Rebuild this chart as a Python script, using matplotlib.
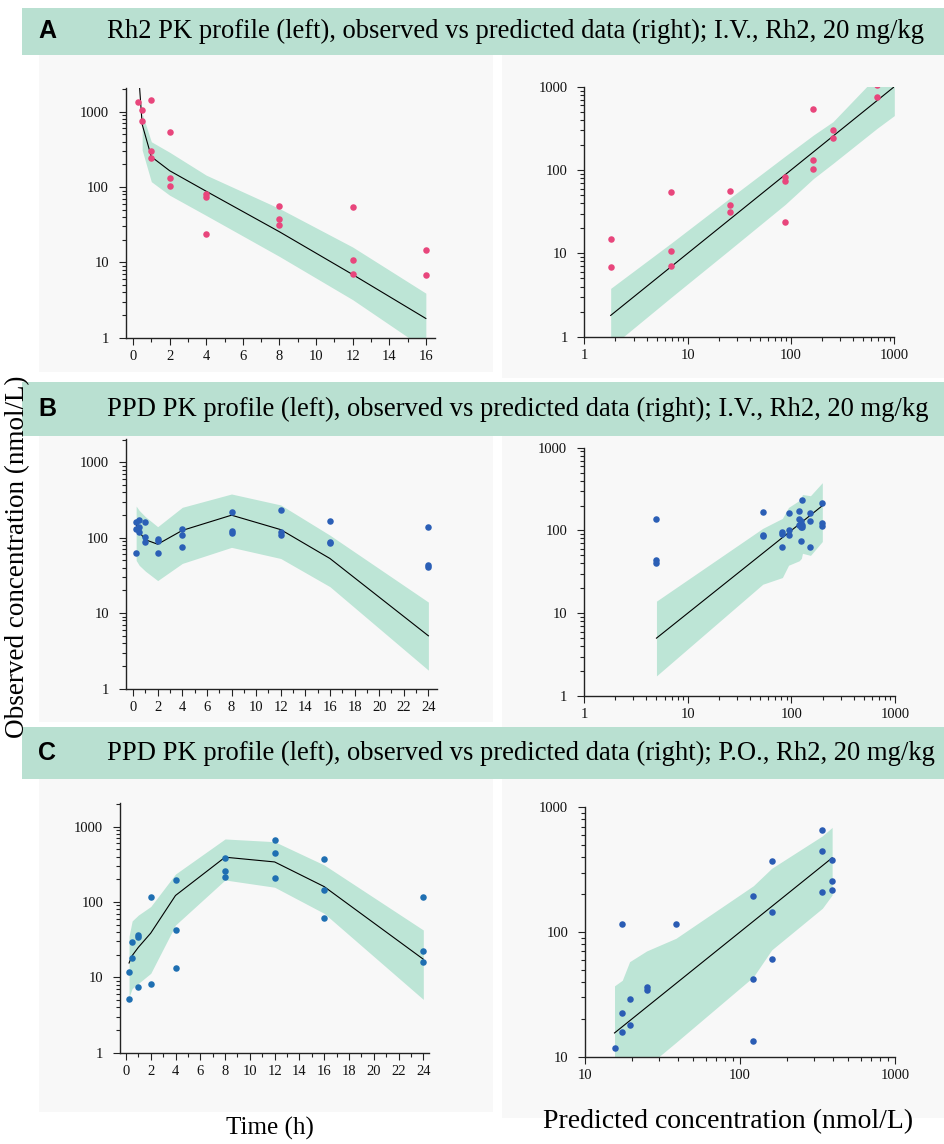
import numpy as np
import matplotlib.pyplot as plt
from matplotlib.patches import Rectangle
from matplotlib.ticker import LogLocator, MultipleLocator, FuncFormatter, NullFormatter

plt.rcParams['font.family'] = ['Liberation Serif', 'DejaVu Serif']

W, H = 945, 1144

# ---------------- A: Rh2, I.V. ----------------
a_t = [0.25, 0.5, 0.5, 1, 1, 1, 2, 2, 2, 4, 4, 4, 8, 8, 8, 12, 12, 12, 16, 16]
a_obs = [1358, 1042, 752, 1428, 303, 245, 543, 133, 103, 82, 74.5, 24,
         56.5, 38, 31.6, 54.3, 10.6, 7.1, 14.7, 6.8]
a_tp = [0.25, 0.5, 1, 2, 4, 8, 12, 16]
a_pred = [5000, 680, 253, 165, 88, 25.5, 6.9, 1.8]
a_band_t = [0.5, 1, 2, 4, 8, 12, 16]
a_band_lo = [310, 118, 78, 42, 12, 3.2, 0.7]
a_band_hi = [950, 400, 290, 144, 52, 16, 3.9]
a_rband_x = [1.8, 7, 25, 88, 165, 255, 680, 1000]
a_rband_lo = [0.75, 3, 10.8, 38.7, 79, 120, 316, 450]
a_rband_hi = [3.8, 13.4, 45, 147, 263, 380, 1350, 2200]

# ---------------- B: PPD, I.V. ----------------
b_t = [0.25] * 3 + [0.5] * 3 + [1] * 3 + [2] * 3 + [4] * 3 + [8] * 3 + [12] * 3 + [16] * 3 + [24] * 3
b_obs = [163, 131, 63, 172, 137, 118, 161, 101, 88, 95, 90, 63, 131, 110, 74.5,
         217, 122, 114, 231, 118, 109, 169, 88, 86, 137, 44, 41]
b_tp = [0.25, 0.5, 1, 2, 4, 8, 12, 16, 24]
b_pred = [150, 119, 94, 82, 125, 199, 128, 53, 5]
b_band_t = b_tp
b_band_lo = [50, 43, 36, 27, 45.6, 74.5, 53, 22.4, 1.75]
b_band_hi = [263, 230, 190, 140, 253, 380, 272, 108, 14]
b_rband_x = [5, 53, 82, 94, 119, 125, 128, 153, 199]
b_rband_lo = [1.75, 22.4, 27, 38, 43, 46, 53, 50, 73.5]
b_rband_hi = [14, 106, 140, 190, 230, 253, 272, 263, 378]

# ---------------- C: PPD, P.O. ----------------
c_t = [0.25, 0.25, 0.5, 0.5, 1, 1, 1, 2, 2, 4, 4, 4, 8, 8, 8, 12, 12, 12, 16, 16, 16, 24, 24, 24]
c_obs = [11.8, 5.1, 29.2, 17.9, 36.1, 34, 7.4, 115, 8.2, 194, 42, 13.4, 380, 258, 217,
         658, 448, 210, 368, 146, 60.7, 116, 22.4, 15.8]
c_tp = [0.25, 0.5, 1, 2, 4, 8, 12, 16, 24]
c_pred = [15.5, 19.4, 25, 38.6, 122, 393, 340, 160, 17.4]
c_band_t = c_tp
c_band_lo = [5.5, 7.1, 8.3, 11.3, 49.5, 196, 157, 70.6, 5.1]
c_band_hi = [35, 56, 67, 87, 235, 686, 631, 310, 42.5]
c_rband_x = [15.5, 17.4, 19.4, 25, 38.6, 122, 160, 340, 393]
c_rband_lo = [5.5, 5.1, 7.1, 8.3, 13, 43.7, 71.8, 155, 198]
c_rband_hi = [37, 41, 57.8, 70.5, 89, 235, 324, 590, 690]

titles = ['Rh2 PK profile (left), observed vs predicted data (right); I.V., Rh2, 20 mg/kg',
          'PPD PK profile (left), observed vs predicted data (right); I.V., Rh2, 20 mg/kg',
          'PPD PK profile (left), observed vs predicted data (right); P.O., Rh2, 20 mg/kg']
letters = ['A', 'B', 'C']

BAND = '#bde5d6'
HEAD = '#b9e0d1'
PANEL = '#f8f8f8'


def px_axes(fig, l, t, r, b):
    return fig.add_axes([l / W, 1 - b / H, (r - l) / W, (b - t) / H])


def fig_rect(fig, l, t, r, b, color):
    fig.patches.append(Rectangle((l / W, 1 - b / H), (r - l) / W, (b - t) / H,
                                 transform=fig.transFigure, color=color, lw=0, zorder=-5))


def style(ax):
    ax.set_facecolor('none')
    for s in ['top', 'right']:
        ax.spines[s].set_visible(False)
    for s in ['left', 'bottom']:
        ax.spines[s].set_linewidth(1.0)
        ax.spines[s].set_color('#222222')
    ax.tick_params(which='both', direction='out', color='#222222', width=0.8,
                   labelsize=10.5, labelcolor='#111111')
    ax.tick_params(axis='y', which='both', pad=7)
    ax.tick_params(axis='x', which='both', pad=4)
    ax.tick_params(which='major', length=5)
    ax.tick_params(which='minor', length=3)
    fmt = FuncFormatter(lambda v, p: f'{v:g}')
    ax.yaxis.set_major_locator(LogLocator(base=10))
    ax.yaxis.set_minor_locator(LogLocator(base=10, subs=np.arange(2, 10)))
    ax.yaxis.set_major_formatter(fmt)
    ax.yaxis.set_minor_formatter(NullFormatter())
    if ax.get_xscale() == 'log':
        ax.xaxis.set_major_locator(LogLocator(base=10))
        ax.xaxis.set_minor_locator(LogLocator(base=10, subs=np.arange(2, 10)))
        ax.xaxis.set_major_formatter(fmt)
        ax.xaxis.set_minor_formatter(NullFormatter())
    else:
        ax.xaxis.set_major_locator(MultipleLocator(2))
        ax.xaxis.set_minor_locator(MultipleLocator(1))


def profile(ax, t, obs, tp, pred, bt, blo, bhi, color, xlim, ylim):
    ax.set_yscale('log')
    ax.fill_between(bt, blo, bhi, color=BAND, lw=0, zorder=1)
    ax.plot(tp, pred, color='black', lw=0.8, zorder=2)
    ax.scatter(t, obs, s=22, color=color, lw=0, zorder=3)
    ax.set_xlim(*xlim)
    ax.set_ylim(*ylim)
    style(ax)


def obs_pred(ax, t, obs, tp, pred, rx, rlo, rhi, color, lim):
    ax.set_xscale('log')
    ax.set_yscale('log')
    lookup = dict(zip(tp, pred))
    px = [lookup[v] for v in t]
    ax.fill_between(rx, rlo, rhi, color=BAND, lw=0, zorder=1)
    lo, hi = min(pred), max(rx)
    ax.plot([lo, hi], [lo, hi], color='black', lw=0.8, zorder=2)
    ax.scatter(px, obs, s=22, color=color, lw=0, zorder=3)
    ax.set_xlim(*lim)
    ax.set_ylim(*lim)
    style(ax)


fig = plt.figure(figsize=(W / 100, H / 100), dpi=100)

# panel backgrounds and header bands
rows = [(55, 372), (436, 722), (779, 1112)]
for top, bot in rows:
    fig_rect(fig, 39, top, 493, bot, PANEL)
    fig_rect(fig, 502, top, 945, bot + 6, PANEL)
bands = [(8, 55), (382, 436), (727, 779)]
for (top, bot), lt, ttl in zip(bands, letters, titles):
    fig_rect(fig, 22, top, 945, bot, HEAD)
    yc = 1 - (top + bot) / 2 / H
    fig.text(38 / W, yc, lt, family=['Liberation Sans', 'DejaVu Sans'], weight='bold',
             fontsize=18, ha='left', va='center')
    fig.text(107 / W, yc, ttl, fontsize=19.2, ha='left', va='center')

# row A
ax = px_axes(fig, 125.7, 88.3, 435, 337.7)
profile(ax, a_t, a_obs, a_tp, a_pred, a_band_t, a_band_lo, a_band_hi, '#e8467c',
        (-0.4, 16.5), (1, 2050))
ax = px_axes(fig, 584.3, 86.7, 894.3, 336.7)
obs_pred(ax, a_t, a_obs, a_tp, a_pred, a_rband_x, a_rband_lo, a_rband_hi, '#e8467c', (1, 1000))

# row B
ax = px_axes(fig, 125.7, 439.3, 437, 688.5)
profile(ax, b_t, b_obs, b_tp, b_pred, b_band_t, b_band_lo, b_band_hi, '#2b5fb6',
        (-0.6, 24.7), (1, 2020))
ax = px_axes(fig, 584, 447.7, 895, 696)
obs_pred(ax, b_t, b_obs, b_tp, b_pred, b_rband_x, b_rband_lo, b_rband_hi, '#2b5fb6', (1, 1000))

# row C
ax = px_axes(fig, 120, 803.3, 429.5, 1052.7)
profile(ax, c_t, c_obs, c_tp, c_pred, c_band_t, c_band_lo, c_band_hi, '#1f6fb2',
        (-0.48, 24.5), (1, 2040))
ax = px_axes(fig, 585, 807.3, 895, 1056.7)
obs_pred(ax, c_t, c_obs, c_tp, c_pred, c_rband_x, c_rband_lo, c_rband_hi, '#2a5cb4', (10, 1000))

fig.text(18 / W, 1 - 557 / H, 'Observed concentration (nmol/L)', rotation=90,
         fontsize=19.5, ha='center', va='center')
fig.text(270 / W, 1 - 1128 / H, 'Time (h)', fontsize=18, ha='center', va='center')
fig.text(728 / W, 1 - 1122 / H, 'Predicted concentration (nmol/L)', fontsize=20,
         ha='center', va='center')

fig.savefig('out.png', dpi=100, facecolor='white')
